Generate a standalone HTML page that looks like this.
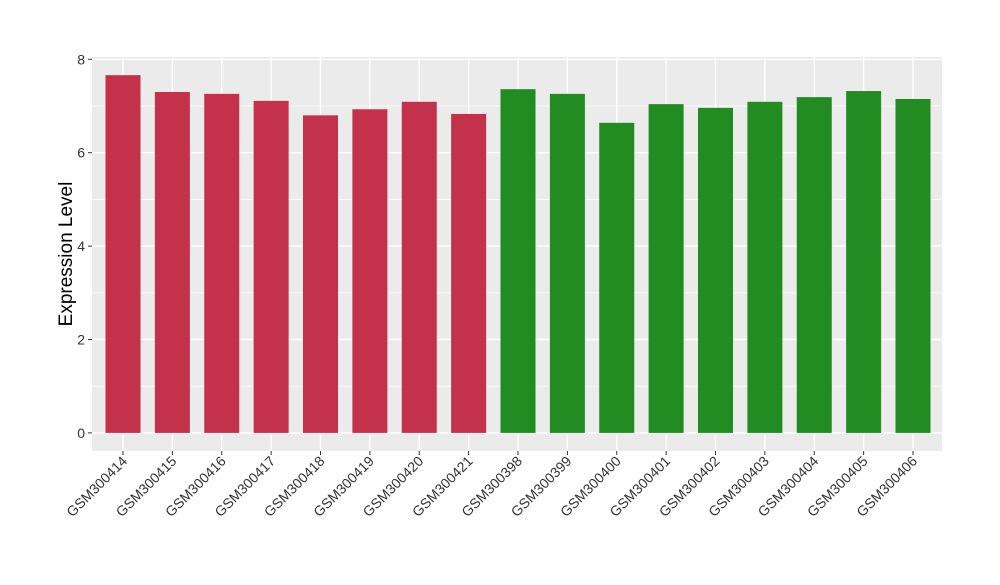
<!DOCTYPE html>
<html><head><meta charset="utf-8"><style>
body{margin:0;background:#fff;font-family:"Liberation Sans",Arial,sans-serif}
</style></head><body>
<svg id="chart" width="1000" height="580" xmlns="http://www.w3.org/2000/svg">
<rect x="92" y="57" width="850" height="394" fill="#ebebeb"/>
<g id="grid"></g><g id="bars"></g><g id="axes"></g>
<text transform="translate(72,254) rotate(-90)" text-anchor="middle" font-size="19" fill="#000">Expression Level</text>
</svg>
<script>
const categories=["GSM300414","GSM300415","GSM300416","GSM300417","GSM300418","GSM300419","GSM300420","GSM300421","GSM300398","GSM300399","GSM300400","GSM300401","GSM300402","GSM300403","GSM300404","GSM300405","GSM300406"];
const values=[7.66,7.30,7.26,7.11,6.80,6.93,7.09,6.83,7.36,7.26,6.64,7.04,6.96,7.09,7.19,7.32,7.15];
const groups=["a","a","a","a","a","a","a","a","b","b","b","b","b","b","b","b","b"];
const yTicks=[0,2,4,6,8];
const colors={a:"#c3314a",b:"#228b22"};
const NS="http://www.w3.org/2000/svg";
const y0=432.9,ppu=46.7;
const y=v=>y0-v*ppu;
const x=i=>123+i*49.375;
const bw=35;
function mk(t,a,p){const e=document.createElementNS(NS,t);for(const k in a)e.setAttribute(k,a[k]);p.appendChild(e);return e;}
const grid=document.getElementById('grid'),bars=document.getElementById('bars'),axes=document.getElementById('axes');
for(let v=1;v<8;v+=2){const l=mk('line',{x1:92,x2:942,y1:y(v),y2:y(v),stroke:'#fff','stroke-width':0.7},grid);

}
yTicks.forEach(v=>{const l=mk('line',{x1:92,x2:942,y1:y(v),y2:y(v),stroke:'#fff','stroke-width':1.4},grid);


const tk=mk('line',{x1:88,x2:92,y1:y(v),y2:y(v),stroke:'#333','stroke-width':1},axes);


const t=mk('text',{x:85,y:y(v)+5,'text-anchor':'end','font-size':14,fill:'#333'},axes);


t.textContent=v;});
categories.forEach((c,i)=>{const l=mk('line',{x1:x(i),x2:x(i),y1:57,y2:451,stroke:'#fff','stroke-width':1.4},grid);


const r=mk('rect',{x:x(i)-bw/2,y:y(values[i]),width:bw,height:y0-y(values[i]),fill:colors[groups[i]]},bars);


const tk=mk('line',{x1:x(i),x2:x(i),y1:451,y2:455,stroke:'#333','stroke-width':1},axes);


const t=mk('text',{transform:`translate(${x(i)+5},${462}) rotate(-45)`,'text-anchor':'end','font-size':14,fill:'#333'},axes);


t.textContent=c;});
</script>
</body></html>
